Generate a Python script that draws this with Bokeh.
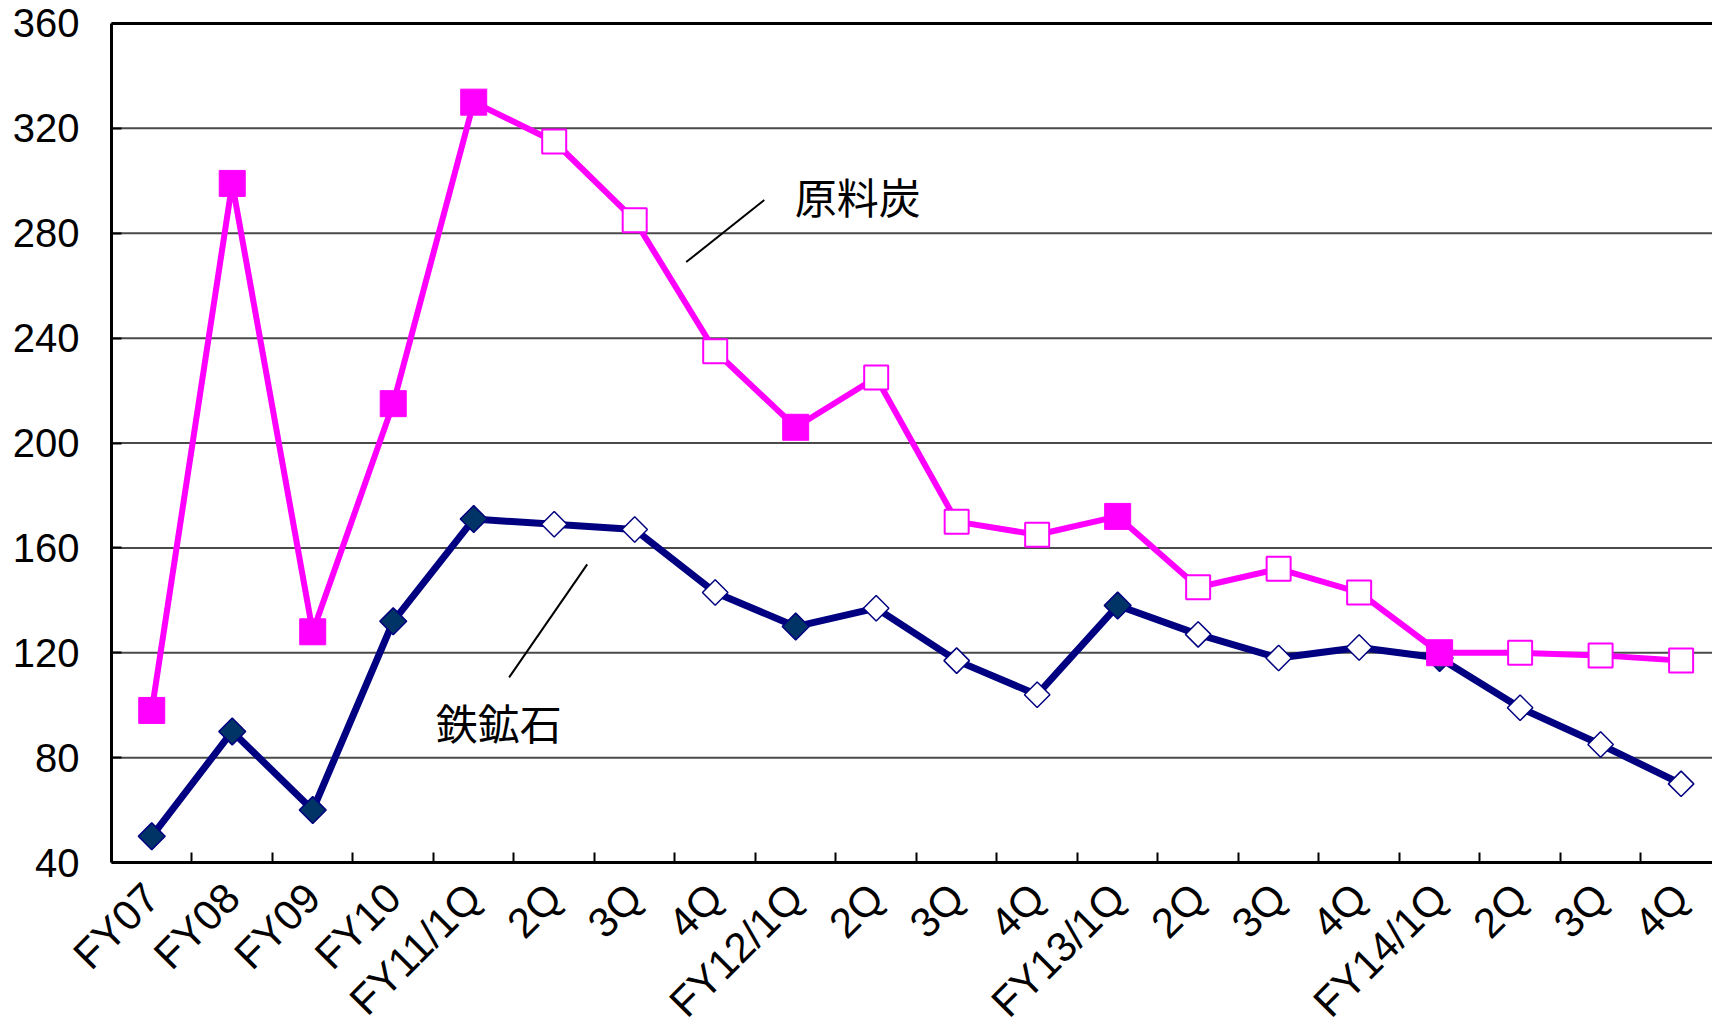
import math
from bokeh.plotting import figure
from bokeh.models import (Range1d, FixedTicker, CustomJSTickFormatter, Label, Arrow)
from bokeh.embed import file_html
from bokeh.resources import INLINE

# ---- data ----
categories = ["FY07", "FY08", "FY09", "FY10", "FY11/1Q", "2Q", "3Q", "4Q",
              "FY12/1Q", "2Q", "3Q", "4Q", "FY13/1Q", "2Q", "3Q", "4Q",
              "FY14/1Q", "2Q", "3Q", "4Q"]
coking_coal = [98, 299, 128, 215, 330, 315, 285, 235, 206, 225, 170, 165,
               172, 145, 152, 143, 120, 120, 119, 117]
iron_ore = [50, 90, 60, 132, 171, 169, 167, 143, 130, 137, 117, 104,
            138, 127, 118, 122, 118, 99, 85, 70]
# filled marker = annual values and first quarter of each fiscal year
filled = [True, True, True, True, True, False, False, False,
          True, False, False, False, True, False, False, False,
          True, False, False, False]
y_ticks = [40, 80, 120, 160, 200, 240, 280, 320, 360]

n = len(categories)
xs = list(range(n))
cx_f = [x for x, f in zip(xs, filled) if f]
cx_h = [x for x, f in zip(xs, filled) if not f]
coal_f = [v for v, f in zip(coking_coal, filled) if f]
coal_h = [v for v, f in zip(coking_coal, filled) if not f]
ore_f = [v for v, f in zip(iron_ore, filled) if f]
ore_h = [v for v, f in zip(iron_ore, filled) if not f]

FONT = "Liberation Sans"
CJK = "Noto Sans CJK JP"

X_LEFT = -0.5            # left edge of the value area (category boundary)
X_END = 19.39            # visible right end (chart is cut at the right edge)
Y_MIN, Y_MAX = y_ticks[0], y_ticks[-1]

# the frame covers the whole canvas; axes are placed at fixed locations
p = figure(width=1712, height=1023, output_backend="svg", toolbar_location=None,
           x_range=Range1d(-1.879, X_END), y_range=Range1d(-21.4, 368.77),
           min_border=0)
p.outline_line_color = None
p.background_fill_color = "white"
p.border_fill_color = "white"
p.xgrid.grid_line_color = None
p.ygrid.grid_line_color = None

# horizontal grid lines and top border, limited to the value area
inner = y_ticks[1:-1]
p.segment(x0=[X_LEFT] * len(inner), y0=inner, x1=[X_END] * len(inner), y1=inner,
          line_color="#4a4a4a", line_width=2)
p.segment(x0=[X_LEFT], y0=[Y_MAX], x1=[X_END], y1=[Y_MAX],
          line_color="black", line_width=3)

# y axis
yax = p.yaxis[0]
yax.fixed_location = X_LEFT
yax.bounds = (Y_MIN, Y_MAX)
yax.ticker = FixedTicker(ticks=y_ticks)
yax.axis_line_color = "black"
yax.axis_line_width = 3
yax.major_tick_in = 10
yax.major_tick_out = 0
yax.major_tick_line_width = 2
yax.minor_tick_line_color = None
yax.major_label_standoff = 32
yax.major_label_text_font = FONT
yax.major_label_text_font_size = "40px"
yax.major_label_text_color = "black"

# x axis: labels at category centres, tick marks at boundaries
xax = p.xaxis[0]
xax.fixed_location = Y_MIN
xax.bounds = (X_LEFT, X_END)
xax.ticker = FixedTicker(ticks=xs, minor_ticks=[x + 0.5 for x in xs])
xax.formatter = CustomJSTickFormatter(args=dict(labels=categories),
                                      code="const i = Math.round(tick); return (i >= 0 && i < labels.length) ? labels[i] : '';")
xax.major_tick_line_color = None
xax.minor_tick_line_color = "black"
xax.minor_tick_line_width = 2
xax.minor_tick_in = 10
xax.minor_tick_out = 0
xax.axis_line_color = "black"
xax.axis_line_width = 3
xax.major_label_orientation = math.pi / 4
xax.major_label_standoff = 22
xax.major_label_text_font = FONT
xax.major_label_text_font_size = "42px"
xax.major_label_text_color = "black"

# iron ore
p.line(xs, iron_ore, line_color="#000080", line_width=7)
p.scatter(cx_f, ore_f, marker="square", angle=math.pi / 4, size=19,
          fill_color="#003366", line_color="#000080", line_width=1.5)
p.scatter(cx_h, ore_h, marker="square", angle=math.pi / 4, size=18,
          fill_color="white", line_color="#000080", line_width=1.5)

# coking coal
p.line(xs, coking_coal, line_color="#FF00FF", line_width=6)
p.scatter(cx_f, coal_f, marker="square", size=26,
          fill_color="#FF00FF", line_color="#FF00FF", line_width=1)
p.scatter(cx_h, coal_h, marker="square", size=24,
          fill_color="white", line_color="#FF00FF", line_width=2)

# annotations
p.add_layout(Label(x=8.77, y=294.4, text="原料炭", text_font=CJK, text_font_size="42px",
                   text_align="center", text_baseline="middle", text_color="black"))
p.add_layout(Arrow(end=None, x_start=7.61, y_start=292.7, x_end=6.64, y_end=269.0,
                   line_color="black", line_width=2))
p.add_layout(Label(x=4.31, y=93.8, text="鉄鉱石", text_font=CJK, text_font_size="42px",
                   text_align="center", text_baseline="middle", text_color="black"))
p.add_layout(Arrow(end=None, x_start=5.41, y_start=153.7, x_end=4.44, y_end=110.6,
                   line_color="black", line_width=2))

open("out.html", "w").write(file_html(p, INLINE))
